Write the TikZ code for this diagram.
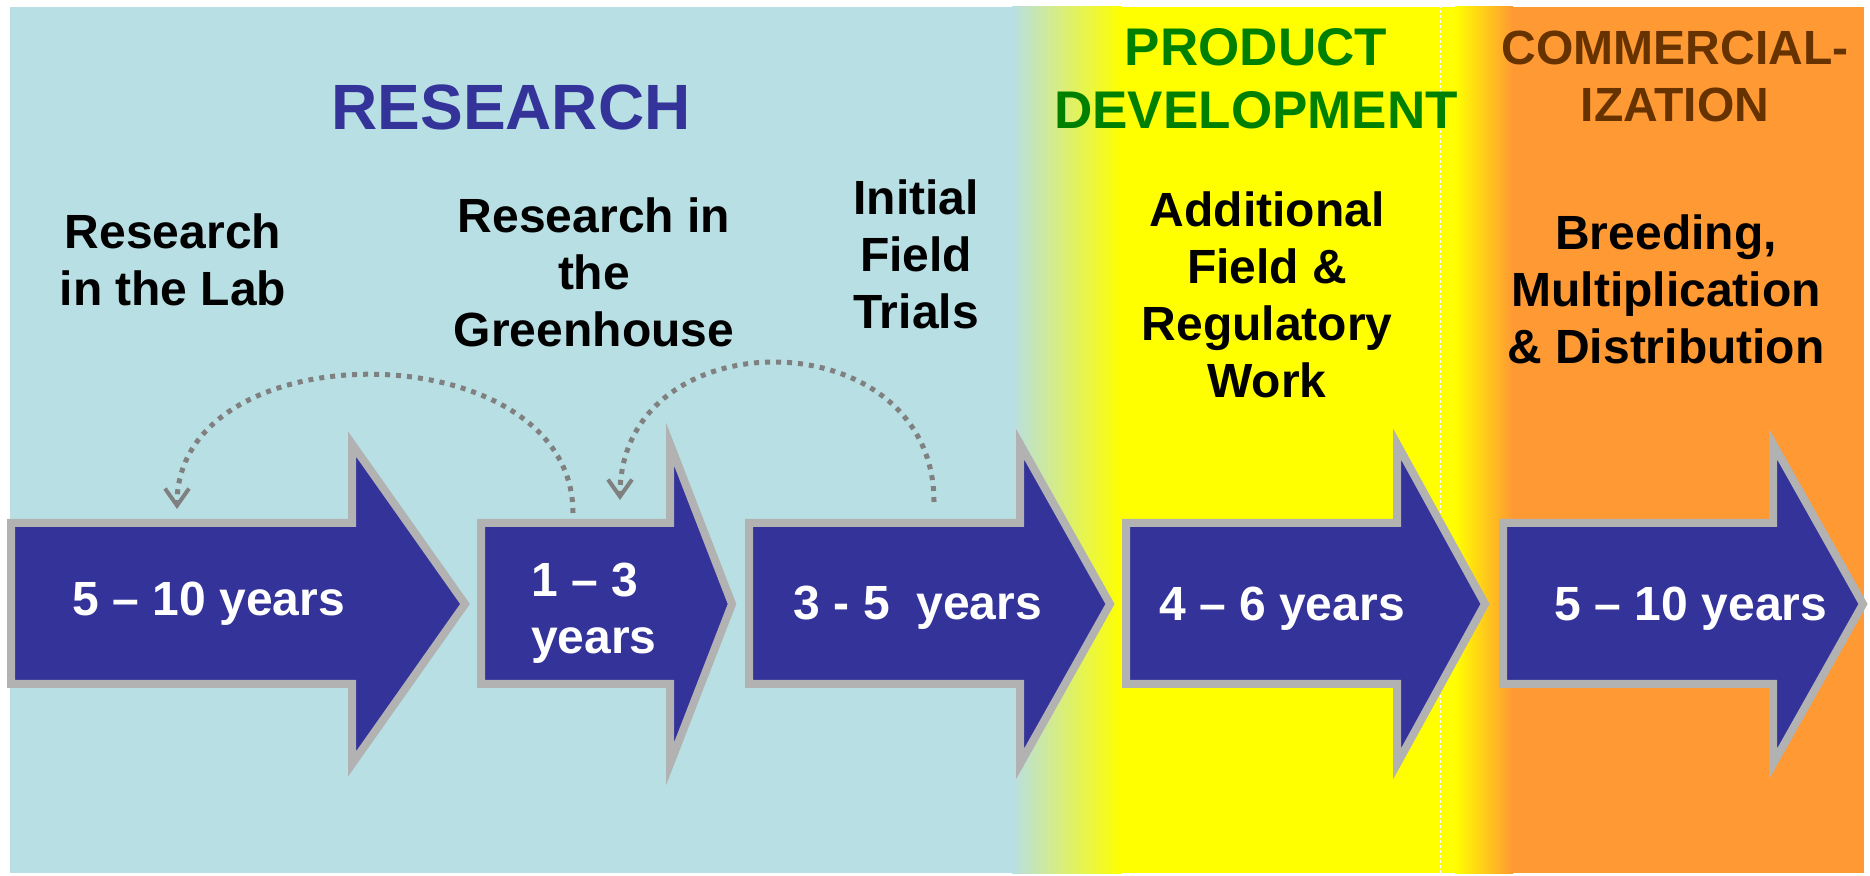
\documentclass[tikz,border=0pt]{standalone}
\usepackage{fontspec}
\setmainfont{Liberation Sans}
\usetikzlibrary{arrows.meta}

\definecolor{bgblue}{HTML}{B8DFE3}
\definecolor{bgyellow}{HTML}{FFFF00}
\definecolor{bgorange}{HTML}{FF9933}
\definecolor{stagefill}{HTML}{333399}
\definecolor{stageedge}{HTML}{B2B2B2}
\definecolor{loopgray}{HTML}{808080}
\definecolor{devgreen}{HTML}{008000}
\definecolor{combrown}{HTML}{663300}

% block arrow: #1 left end, #2 x of the head's base, #3 x of the tip
\newcommand\stagearrow[3]{%
  \draw[arrowbody] (#1,352) -- (#2,352) -- (#2,431) -- (#3,271)
    -- (#2,111) -- (#2,191) -- (#1,191) -- cycle;}

\begin{document}
\begin{tikzpicture}[x=1pt,y=1pt,
  arrowbody/.style={fill=stagefill, draw=stageedge, line width=8pt, line join=miter},
  heading/.style={inner sep=0pt, anchor=base},
  tasklabel/.style={inner sep=0pt, anchor=base, text=black,
    font=\bfseries\fontsize{48}{57}\selectfont},
  duration/.style={inner sep=0pt, anchor=base, text=white,
    font=\bfseries\fontsize{48}{57}\selectfont},
  loopback/.style={draw=loopgray, line width=5pt, dash pattern=on 5pt off 6pt,
    -{Straight Barb[length=17pt,width=24pt,line width=4pt]}}
]
\useasboundingbox (0,0) rectangle (1870,875);

% phase backgrounds
\fill[bgblue] (10,2) rectangle (1013,868);
\shade[left color=bgblue, right color=bgyellow] (1012,2) rectangle (1121,868);
\fill[bgyellow] (1120,2) rectangle (1456,868);
\shade[left color=bgyellow, right color=bgorange] (1455,2) rectangle (1513,868);
\fill[bgorange] (1512,2) rectangle (1864,868);
\draw[white, line width=1pt, dash pattern=on 3pt off 2pt] (1440,2) -- (1440,868);

% phase headings
\node[heading, text=stagefill, font=\bfseries\fontsize{64}{70}\selectfont]
  (research) at (511,745) {RESEARCH};
\node[heading, text=devgreen, font=\bfseries\fontsize{53}{63}\selectfont]
  (proddev) at (1256,809) {\begin{tabular}[t]{@{}c@{}}PRODUCT\\DEVELOPMENT\end{tabular}};
\node[heading, text=combrown, font=\bfseries\fontsize{48}{57}\selectfont]
  (commerce) at (1675,810) {\begin{tabular}[t]{@{}c@{}}COMMERCIAL-\\IZATION\end{tabular}};

% stage descriptions
\node[tasklabel] (lab) at (173,626)
  {\begin{tabular}[t]{@{}c@{}}Research\\in the Lab\end{tabular}};
\node[tasklabel] (greenhouse) at (594,642)
  {\begin{tabular}[t]{@{}c@{}}Research in\\the\\Greenhouse\end{tabular}};
\node[tasklabel] (fieldtrials) at (916,660)
  {\begin{tabular}[t]{@{}c@{}}Initial\\Field\\Trials\end{tabular}};
\node[tasklabel] (regulatory) at (1267,648)
  {\begin{tabular}[t]{@{}c@{}}Additional\\Field \&\\Regulatory\\Work\end{tabular}};
\node[tasklabel] (breeding) at (1666,625)
  {\begin{tabular}[t]{@{}c@{}}Breeding,\\Multiplication\\\& Distribution\end{tabular}};

% stage arrows
\stagearrow{11}{352}{465}
\stagearrow{481}{670}{732}
\stagearrow{749}{1020}{1110}
\stagearrow{1126}{1397}{1485}
\stagearrow{1503}{1773}{1863}

% durations
\node[duration] (d1) at (209,259) {5 -- 10 years};
\node[duration, anchor=base west] (d2) at (531,278)
  {\begin{tabular}[t]{@{}l@{}}1 -- 3\\years\end{tabular}};
\node[duration] (d3) at (918,255) {3 - 5~~years};
\node[duration] (d4) at (1282,254) {4 -- 6 years};
\node[duration] (d5) at (1691,254) {5 -- 10 years};

% feedback loops
\coordinate (gh-top) at (573,362);
\coordinate (lab-top) at (177,366);
\coordinate (ft-top) at (934,373);
\coordinate (gh-in) at (620,375);
\draw[loopback] (gh-top) to[out=90,in=90,looseness=1.17] (lab-top);
\draw[loopback] (ft-top) to[out=90,in=90,looseness=1.5] (gh-in);
\end{tikzpicture}
\end{document}
